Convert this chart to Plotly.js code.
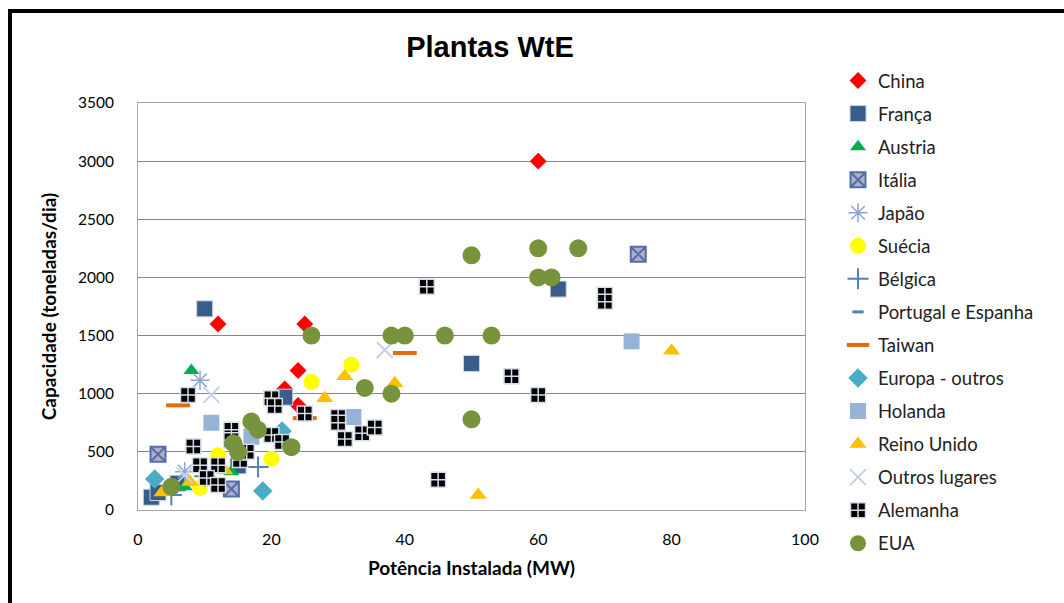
<!DOCTYPE html>
<html><head><meta charset="utf-8">
<script src="https://cdn.plot.ly/plotly-3.0.1.min.js"></script>
<style>
html,body{margin:0;padding:0;background:#fff;}
#chart{position:absolute;left:0;top:0;width:1064px;height:603px;}
#frame{position:absolute;left:8px;top:9px;width:1100px;height:700px;border-top:4px solid #000;border-left:4px solid #000;pointer-events:none;}
</style></head>
<body>
<div id="chart"></div>
<div id="frame"></div>
<script>
// Series data: [MW, toneladas/dia]
const chinaX = [60, 12, 25, 24, 22, 24];
const chinaY = [3000, 1600, 1600, 1200, 1040, 900];
const francaX = [10, 63, 50, 22, 2, 3, 6, 15];
const francaY = [1730, 1900, 1260, 970, 110, 150, 230, 380];
const austriaX = [8, 7, 14];
const austriaY = [1200, 200, 330];
const italiaX = [75, 3, 14];
const italiaY = [2200, 480, 180];
const japaoX = [9.3, 7];
const japaoY = [1115, 330];
const sueciaX = [32, 26, 20, 12, 9.3];
const sueciaY = [1250, 1100, 440, 470, 190];
const belgicaX = [18, 10, 5];
const belgicaY = [370, 290, 130];
const portugalX = [12];
const portugalY = [400];
const taiwanX = [6, 40, 25];
const taiwanY = [900, 1350, 790];
const europaX = [18.7, 2.5, 21.6];
const europaY = [163, 267, 680];
const holandaX = [74, 11, 32.3, 17];
const holandaY = [1450, 750, 800, 630];
const reinoX = [80, 51, 31, 38.5, 28, 3.6, 7.8, 13];
const reinoY = [1370, 130, 1150, 1090, 960, 150, 240, 340];
const outrosX = [37, 11, 7];
const outrosY = [1376, 990, 300];
const alemanhaX = [7.5, 20, 20.5, 25, 30, 30, 31, 33.6, 35.5, 20, 21.6, 14, 14, 8.3, 9.3, 12, 10.3, 12, 15.3, 16.3, 43.3, 70, 70, 56, 60, 45];
const alemanhaY = [990, 960, 895, 830, 800, 750, 610, 660, 710, 645, 585, 690, 600, 545, 385, 385, 275, 215, 430, 500, 1920, 1850, 1790, 1150, 990, 260];
const euaX = [50, 60, 66, 60, 62, 26, 38, 40, 46, 53, 34, 38, 50, 17, 18, 14.3, 15, 23, 5];
const euaY = [2190, 2250, 2250, 2000, 2000, 1500, 1500, 1500, 1500, 1500, 1050, 1000, 780, 760, 690, 575, 500, 540, 200];

const mk = (name, x, y, marker) => ({type:'scatter', mode:'markers', name, x, y, marker, legendgroup:name});
const traces = [
  mk('China', chinaX, chinaY, {symbol:'diamond', color:'#FF0000', size:13}),
  mk('França', francaX, francaY, {symbol:'square', color:'#385D8A', size:16, line:{color:'#C9D3E3', width:1}}),
  mk('Austria', austriaX, austriaY, {symbol:'triangle-up', color:'#00B050', size:14}),
  mk('Itália', italiaX, italiaY, {symbol:'square-x', color:'#B3ACCB', size:15, line:{color:'#4F6FA8', width:2}}),
  mk('Japão', japaoX, japaoY, {symbol:'asterisk-open', color:'#8EA6D2', size:16, line:{color:'#8EA6D2', width:1.5}}),
  mk('Suécia', sueciaX, sueciaY, {symbol:'circle', color:'#FFFF00', size:16}),
  mk('Bélgica', belgicaX, belgicaY, {symbol:'cross-thin-open', color:'#4F81BD', size:15, line:{color:'#4F81BD', width:2}}),
  mk('Portugal e Espanha', portugalX, portugalY, {symbol:'line-ew-open', color:'#4F81BD', size:8, line:{color:'#4F81BD', width:3}}),
  mk('Taiwan', taiwanX, taiwanY, {symbol:'line-ew-open', color:'#E46C0A', size:17, line:{color:'#E46C0A', width:4}}),
  mk('Europa - outros', europaX, europaY, {symbol:'diamond', color:'#4BACC6', size:15}),
  mk('Holanda', holandaX, holandaY, {symbol:'square', color:'#95B3D7', size:16}),
  mk('Reino Unido', reinoX, reinoY, {symbol:'triangle-up', color:'#FFC000', size:15}),
  mk('Outros lugares', outrosX, outrosY, {symbol:'x-thin-open', color:'#C6D0E6', size:16, line:{color:'#C6D0E6', width:2}}),
  mk('Alemanha', alemanhaX, alemanhaY, {symbol:'square-cross', color:'#000000', size:15, line:{color:'#D5DCEA', width:1.5}}),
  mk('EUA', euaX, euaY, {symbol:'circle', color:'#77933C', size:18})
];

const layout = {
  width:1064, height:603,
  margin:{l:138, r:259, t:103, b:93, autoexpand:false},
  paper_bgcolor:'#fff', plot_bgcolor:'#fff',
  font:{family:'Lato, Carlito, sans-serif', color:'#000', size:15},
  title:{text:'<b>Plantas WtE</b>', font:{family:'Liberation Sans, Arial, sans-serif', size:29, color:'#000'},
         xref:'container', x:0.4605, xanchor:'center', yref:'container', y:1-47/603, yanchor:'middle'},
  xaxis:{range:[0,100], dtick:20, tick0:0, showgrid:false, zeroline:false,
         showline:true, mirror:true, linecolor:'#A6A6A6', linewidth:1,
         ticks:'', ticklabelstandoff:15, tickfont:{size:16},
         title:{text:'<b>Potência Instalada (MW)</b>', font:{size:19}, standoff:14}},
  yaxis:{range:[0,3500], dtick:500, tick0:0, showgrid:true, gridcolor:'#868686', gridwidth:1, zeroline:false,
         showline:true, mirror:true, linecolor:'#A6A6A6', linewidth:1,
         ticks:'', ticklabelstandoff:20, tickfont:{size:15.5},
         title:{text:'<b>Capacidade (toneladas/dia)</b>', font:{size:19}, standoff:16}},
  showlegend:true,
  legend:{x:1.0495, xanchor:'left', y:1.1007, yanchor:'top', maxheight:560,
          font:{size:18.5, color:'#222'},
          traceorder:'grouped', tracegroupgap:6, itemsizing:'trace', bgcolor:'rgba(0,0,0,0)'}
};
Plotly.newPlot('chart', traces, layout, {displayModeBar:false, staticPlot:true});
</script>
</body></html>
